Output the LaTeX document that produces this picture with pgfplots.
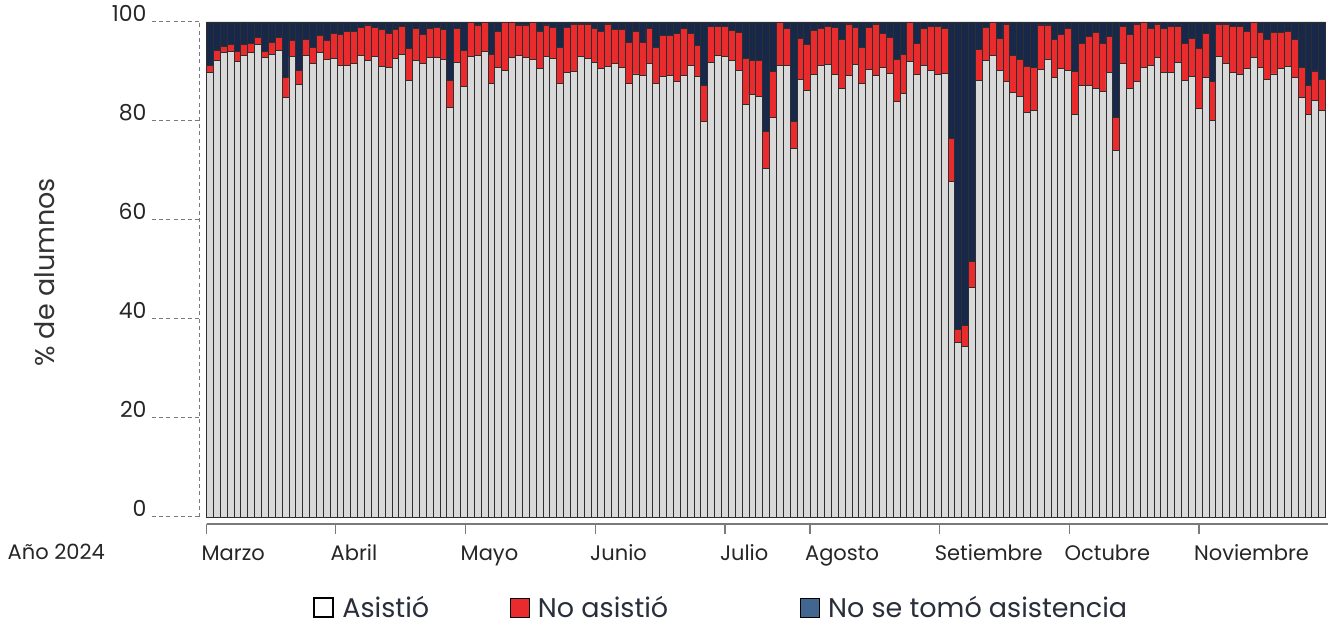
\documentclass[border=0pt]{standalone}
\usepackage{fontspec}
\setmainfont{Poppins}
\usepackage{pgfplots}
\usepackage{pgfplotstable}
\pgfplotsset{compat=1.18}
\definecolor{asis}{HTML}{D9D9D9}
\definecolor{noasis}{HTML}{EA2B2D}
\definecolor{sinreg}{HTML}{17284B}
\definecolor{sinregleg}{HTML}{41668F}
\definecolor{edge}{HTML}{2E2E2E}
\definecolor{axisgray}{HTML}{7A7A7A}
\definecolor{txt}{HTML}{2A2D3A}

% x = school day, g = asistio, r = no asistio, n = no se tomo asistencia
\pgfplotstableread{
x g r n
0 89.8 1.5 8.7
1 92.2 2.0 5.8
2 93.8 1.2 5.0
3 94.0 1.4 4.6
4 92.0 2.0 6.0
5 93.3 2.1 4.6
6 93.8 1.8 4.4
7 95.5 1.4 3.1
8 92.8 1.2 6.0
9 93.5 2.4 4.1
10 94.3 2.6 3.1
11 84.7 4.1 11.2
12 93.0 3.2 3.8
13 87.4 2.9 9.7
14 93.2 3.3 3.5
15 91.6 3.2 5.2
16 93.8 3.4 2.8
17 92.5 3.7 3.8
18 92.7 5.0 2.3
19 91.3 6.2 2.5
20 91.3 6.7 2.0
21 91.6 6.4 2.0
22 93.2 5.7 1.1
23 92.2 7.2 0.6
24 93.0 5.9 1.1
25 91.1 7.3 1.6
26 90.8 6.9 2.3
27 92.7 5.7 1.6
28 93.5 5.6 0.9
29 88.1 6.6 5.3
30 92.2 6.4 1.4
31 91.6 5.9 2.5
32 92.8 5.8 1.4
33 92.8 6.1 1.1
34 92.5 5.9 1.6
35 82.8 5.3 11.9
36 91.9 6.7 1.4
37 86.9 7.4 5.7
38 93.0 7.0 0.0
39 93.2 6.2 0.6
40 94.0 6.0 0.0
41 87.6 5.9 6.5
42 90.8 7.2 2.0
43 90.3 9.7 0.0
44 92.8 7.2 0.0
45 93.2 6.2 0.6
46 92.8 6.6 0.6
47 92.5 7.5 0.0
48 90.6 7.4 2.0
49 93.0 6.4 0.6
50 92.7 6.2 1.1
51 87.6 7.3 5.1
52 89.8 9.1 1.1
53 90.0 9.6 0.4
54 93.0 6.6 0.4
55 92.7 6.9 0.4
56 91.9 6.7 1.4
57 90.6 7.4 2.0
58 91.1 8.5 0.4
59 91.6 6.8 1.6
60 90.8 7.6 1.6
61 87.6 8.3 4.1
62 89.5 8.5 2.0
63 89.2 6.7 4.1
64 91.6 7.0 1.4
65 87.6 7.3 5.1
66 89.0 8.2 2.8
67 89.2 8.0 2.8
68 87.9 9.7 2.4
69 89.2 9.4 1.4
70 91.3 6.4 2.3
71 89.0 6.2 4.8
72 79.9 7.2 12.9
73 91.9 7.2 0.9
74 93.2 5.9 0.9
75 93.0 6.1 0.9
76 92.2 6.0 1.8
77 90.3 7.5 2.2
78 83.4 9.3 7.3
79 85.3 6.9 7.8
80 84.9 7.3 7.8
81 70.4 7.4 22.2
82 80.7 9.3 10.0
83 91.3 8.7 0.0
84 91.3 7.3 1.4
85 74.5 5.4 20.1
86 88.4 8.3 3.3
87 86.1 9.3 4.6
88 89.4 8.8 1.8
89 91.3 7.3 1.4
90 91.5 7.6 0.9
91 89.4 9.5 1.1
92 86.5 10.0 3.5
93 89.2 10.4 0.4
94 91.5 7.4 1.1
95 87.6 7.2 5.2
96 90.5 8.4 1.1
97 89.2 10.4 0.4
98 90.8 6.9 2.3
99 89.6 7.3 3.1
100 84.0 8.5 7.5
101 85.6 7.9 6.5
102 92.1 7.9 0.0
103 89.4 6.2 4.4
104 91.3 7.3 1.4
105 90.3 8.8 0.9
106 89.4 9.7 0.9
107 89.6 9.0 1.4
108 67.7 8.7 23.6
109 35.2 2.7 62.1
110 34.5 4.1 61.4
111 46.3 5.3 48.4
112 88.1 6.4 5.5
113 92.2 6.7 1.1
114 93.3 6.7 0.0
115 90.3 6.4 3.3
116 87.9 11.7 0.4
117 85.7 7.5 6.8
118 84.9 7.6 7.5
119 81.7 9.4 8.9
120 82.2 8.6 9.2
121 90.5 8.9 0.6
122 92.5 6.9 0.6
123 88.8 7.7 3.5
124 90.6 6.9 2.5
125 90.3 8.3 1.4
126 81.4 8.6 10.0
127 87.1 8.6 4.3
128 87.1 9.9 3.0
129 86.5 11.3 2.2
130 85.9 9.8 4.3
131 89.8 7.2 3.0
132 74.1 6.6 19.3
133 91.6 7.5 0.9
134 86.6 10.9 2.5
135 87.9 11.7 0.4
136 90.8 9.2 0.0
137 91.3 7.3 1.4
138 92.8 6.8 0.4
139 89.8 8.8 1.4
140 89.8 9.3 0.9
141 91.9 7.2 0.9
142 88.1 7.6 4.3
143 89.0 7.7 3.3
144 82.6 12.1 5.3
145 88.8 8.9 2.3
146 80.1 7.8 12.1
147 93.0 6.6 0.4
148 91.6 8.0 0.4
149 89.8 9.3 0.9
150 89.4 9.7 0.9
151 90.6 7.4 2.0
152 92.8 7.2 0.0
153 90.8 7.0 2.2
154 88.4 8.1 3.5
155 89.5 8.3 2.2
156 90.6 7.2 2.2
157 91.1 6.9 2.0
158 88.8 7.7 3.5
159 84.7 6.1 9.2
160 81.4 5.7 12.9
161 84.1 6.0 9.9
162 82.2 6.2 11.6
}\asistencia

\pgfplotsset{
  sq/.style={legend image code/.code={%
    \draw[##1] (0pt,-4.75pt) rectangle (9.5pt,4.75pt);}},
}

\begin{document}
\begin{tikzpicture}
\useasboundingbox (-103.3pt,-54pt) rectangle (564.2pt,258.5pt);
\begin{axis}[
  at={(0,0)}, anchor=south west,
  scale only axis, width=560.7pt, height=247.5pt,
  ybar stacked, bar width=1,
  xmin=-0.5, xmax=162.84, ymin=0, ymax=100,
  axis lines*=left, axis line style={draw=none},
  clip=false,
  tick align=outside,
  major tick length=24pt,
  /pgf/number format/assume math mode=true,
  ytick={0,20,...,100},
  ytick style={draw=axisgray, line width=0.5pt, dash pattern=on 2pt off 1.6pt, xshift=-3.3pt},
  yticklabel style={anchor=base east, xshift=-2.5pt, font=\fontsize{11}{13}\selectfont, text=black!85},
  xtick={-0.5,18.3,37.23,56.1,75.0,87.4,106.3,125.2,144.05},
  xticklabels={Marzo,Abril,Mayo,Junio,Julio,Agosto,Setiembre,Octubre,Noviembre},
  xtick style={draw=axisgray, line width=0.6pt, solid, yshift=-3.5pt, /pgfplots/major tick length=5pt},
  xticklabel style={anchor=base west, xshift=-6pt, yshift=2pt, font=\fontsize{10.5}{12}\selectfont, text=black!85},
  ylabel={\% de alumnos},
  every axis y label/.style={at={(rel axis cs:0,0.5)}, xshift=-80.8pt, yshift=-1.5pt, rotate=90, anchor=center,
    font=\fontsize{13.5}{15}\selectfont, text=black!80},
  legend columns=3,
  legend style={at={(axis description cs:0,0)}, anchor=west, xshift=53.2pt, yshift=-45.5pt,
    draw=none, fill=none, inner sep=0pt, text=txt,
    font=\fontsize{13.5}{15}\selectfont,
    nodes={inner sep=0pt},
    /tikz/every odd column/.append style={column sep=4pt},
    /tikz/column 2/.style={column sep=40.5pt},
    /tikz/column 4/.style={column sep=66pt}},
]
\addplot[fill=asis, draw=edge, line width=0.45pt, forget plot] table[x=x, y=g]{\asistencia};
\addplot[fill=noasis, draw=edge, line width=0.45pt, forget plot] table[x=x, y=r]{\asistencia};
\addplot[fill=sinreg, draw=edge, line width=0.45pt, forget plot] table[x=x, y=n]{\asistencia};
\addlegendimage{sq, fill=white, draw=black, line width=1pt}
\addlegendentry{Asistió}
\addlegendimage{sq, fill=noasis, draw=none}
\addlegendentry{No asistió}
\addlegendimage{sq, fill=sinregleg, draw=none}
\addlegendentry{No se tomó asistencia}
\end{axis}
\draw[axisgray, line width=0.5pt, dash pattern=on 2pt off 1.6pt] (-3.3pt,0) -- (-3.3pt,247.5pt);
\draw[axisgray, line width=0.6pt] (0,-3.5pt) -- (560.7pt,-3.5pt);
\node[anchor=base east, font=\fontsize{10.5}{12}\selectfont, text=black!85] at (-47.3pt,-21.5pt) {Año 2024};
\end{tikzpicture}
\end{document}
